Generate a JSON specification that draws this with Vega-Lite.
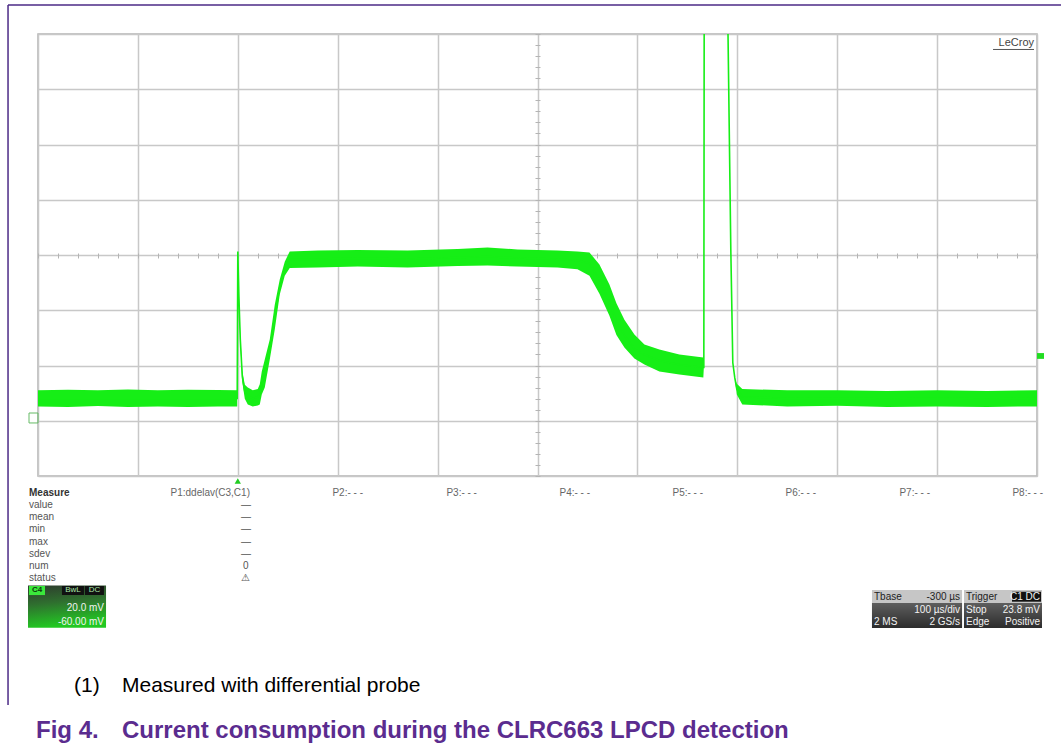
{
  "$schema": "https://vega.github.io/schema/vega-lite/v6.json",
  "width": 999,
  "height": 442,
  "autosize": {"type": "none"},
  "padding": {"left": 38, "top": 34, "right": 24, "bottom": 273},
  "background": "white",
  "config": {
    "view": {"stroke": "#b4b4b4", "strokeWidth": 1.5},
    "font": "Liberation Sans"
  },
  "datasets": {
    "trace": [
      {"t": -200, "lo": 5.2, "hi": 11.0, "mid": 8.1},
      {"t": -170, "lo": 5.0, "hi": 11.2, "mid": 8.1},
      {"t": -140, "lo": 5.3, "hi": 11.0, "mid": 8.1},
      {"t": -110, "lo": 5.0, "hi": 11.3, "mid": 8.1},
      {"t": -80, "lo": 5.2, "hi": 11.0, "mid": 8.1},
      {"t": -50, "lo": 5.0, "hi": 11.2, "mid": 8.1},
      {"t": -20, "lo": 5.2, "hi": 11.1, "mid": 8.1},
      {"t": -0.6, "lo": 5.2, "hi": 11.0, "mid": 8.1},
      {"t": 0, "lo": 61.3, "hi": 61.3, "mid": 61.3},
      {"t": 1, "lo": 45, "hi": 47, "mid": 46},
      {"t": 2.5, "lo": 28, "hi": 31, "mid": 29.5},
      {"t": 4.5, "lo": 14, "hi": 18, "mid": 16},
      {"t": 7, "lo": 8, "hi": 13, "mid": 10.5},
      {"t": 10, "lo": 5.9, "hi": 12.0, "mid": 9},
      {"t": 15, "lo": 5.2, "hi": 11.0, "mid": 8.1},
      {"t": 20, "lo": 5.5, "hi": 11.5, "mid": 8.5},
      {"t": 22, "lo": 5.9, "hi": 13.2, "mid": 9.5},
      {"t": 24, "lo": 9.5, "hi": 17.8, "mid": 13.6},
      {"t": 27, "lo": 12.0, "hi": 22.2, "mid": 17},
      {"t": 32, "lo": 22.2, "hi": 29.4, "mid": 25.8},
      {"t": 37, "lo": 33, "hi": 42, "mid": 37.5},
      {"t": 42, "lo": 45.7, "hi": 51.1, "mid": 48.4},
      {"t": 47, "lo": 52.5, "hi": 57.6, "mid": 55},
      {"t": 52, "lo": 55.3, "hi": 61.3, "mid": 58.3},
      {"t": 80, "lo": 55.5, "hi": 61.6, "mid": 58.5},
      {"t": 120, "lo": 55.8, "hi": 61.8, "mid": 58.8},
      {"t": 170, "lo": 55.5, "hi": 61.6, "mid": 58.5},
      {"t": 220, "lo": 56.0, "hi": 62.2, "mid": 59.1},
      {"t": 250, "lo": 56.2, "hi": 62.7, "mid": 59.4},
      {"t": 280, "lo": 55.8, "hi": 62.0, "mid": 58.9},
      {"t": 320, "lo": 55.5, "hi": 61.6, "mid": 58.5},
      {"t": 340, "lo": 54.8, "hi": 61.3, "mid": 58},
      {"t": 352, "lo": 52.5, "hi": 60.9, "mid": 57},
      {"t": 362, "lo": 46.0, "hi": 56.6, "mid": 51},
      {"t": 372, "lo": 38.0, "hi": 49.3, "mid": 43},
      {"t": 379, "lo": 31.0, "hi": 42.5, "mid": 36},
      {"t": 387, "lo": 26.5, "hi": 36.6, "mid": 31},
      {"t": 397, "lo": 22.5, "hi": 31.2, "mid": 26},
      {"t": 407, "lo": 20.4, "hi": 27.6, "mid": 24},
      {"t": 422, "lo": 17.8, "hi": 25.8, "mid": 21.8},
      {"t": 442, "lo": 16.7, "hi": 24.0, "mid": 20.3},
      {"t": 466, "lo": 15.7, "hi": 22.9, "mid": 19.3},
      {"t": 466.5, "lo": 19.3, "hi": 19.3, "mid": 19.3},
      {"t": 467, "lo": 200, "hi": 200, "mid": 200},
      {"t": 490, "lo": 200, "hi": 200, "mid": 200},
      {"t": 490.7, "lo": 140, "hi": 140, "mid": 140},
      {"t": 493.5, "lo": 62, "hi": 62, "mid": 62},
      {"t": 495.5, "lo": 21, "hi": 21, "mid": 21},
      {"t": 497.5, "lo": 15.5, "hi": 15.5, "mid": 15.5},
      {"t": 499.5, "lo": 9.5, "hi": 13.4, "mid": 11.4},
      {"t": 505, "lo": 5.9, "hi": 11.5, "mid": 8.7},
      {"t": 550, "lo": 5.2, "hi": 11.0, "mid": 8.1},
      {"t": 600, "lo": 5.4, "hi": 11.0, "mid": 8.2},
      {"t": 650, "lo": 5.0, "hi": 10.8, "mid": 7.9},
      {"t": 700, "lo": 5.2, "hi": 11.0, "mid": 8.1},
      {"t": 750, "lo": 5.0, "hi": 10.8, "mid": 7.9},
      {"t": 800, "lo": 5.2, "hi": 11.0, "mid": 8.1}
    ],
    "ann": [
      {"g": "mh", "t": -209, "v": -26.2, "s": "Measure"},
      {"g": "m", "t": -209, "v": -30.5, "s": "value"},
      {"g": "m", "t": -209, "v": -34.8, "s": "mean"},
      {"g": "m", "t": -209, "v": -39.3, "s": "min"},
      {"g": "m", "t": -209, "v": -43.8, "s": "max"},
      {"g": "m", "t": -209, "v": -48.3, "s": "sdev"},
      {"g": "m", "t": -209, "v": -52.6, "s": "num"},
      {"g": "m", "t": -209, "v": -57.0, "s": "status"},
      {"g": "p", "t": 12.2, "v": -26.2, "s": "P1:ddelav(C3,C1)"},
      {"g": "p", "t": 125.3, "v": -26.2, "s": "P2:- - -"},
      {"g": "p", "t": 239.4, "v": -26.2, "s": "P3:- - -"},
      {"g": "p", "t": 352.6, "v": -26.2, "s": "P4:- - -"},
      {"g": "p", "t": 465.7, "v": -26.2, "s": "P5:- - -"},
      {"g": "p", "t": 578.8, "v": -26.2, "s": "P6:- - -"},
      {"g": "p", "t": 692.9, "v": -26.2, "s": "P7:- - -"},
      {"g": "p", "t": 806, "v": -26.2, "s": "P8:- - -"},
      {"g": "pv", "t": 8.1, "v": -30.5, "s": "—"},
      {"g": "pv", "t": 8.1, "v": -34.8, "s": "—"},
      {"g": "pv", "t": 8.1, "v": -39.3, "s": "—"},
      {"g": "pv", "t": 8.1, "v": -43.8, "s": "—"},
      {"g": "pv", "t": 8.1, "v": -48.3, "s": "—"},
      {"g": "pv", "t": 8.1, "v": -52.6, "s": "0"},
      {"g": "pv", "t": 8.1, "v": -57.0, "s": "⚠"},
      {"g": "c4", "t": -201, "v": -61.4, "s": "C4"},
      {"g": "bw", "t": -165, "v": -61.4, "s": "BwL"},
      {"g": "bw", "t": -143.4, "v": -61.4, "s": "DC"},
      {"g": "wr", "t": -133.9, "v": -67.8, "s": "20.0 mV"},
      {"g": "wr", "t": -133.9, "v": -72.9, "s": "-60.00 mV"},
      {"g": "dl", "t": 636.8, "v": -63.8, "s": "Tbase"},
      {"g": "dr", "t": 723, "v": -63.8, "s": "-300 µs"},
      {"g": "wr", "t": 723, "v": -68.5, "s": "100 µs/div"},
      {"g": "wl", "t": 636.8, "v": -72.9, "s": "2 MS"},
      {"g": "wr", "t": 723, "v": -72.9, "s": "2 GS/s"},
      {"g": "dl", "t": 728.9, "v": -63.8, "s": "Trigger"},
      {"g": "wr", "t": 803, "v": -63.8, "s": "C1 DC"},
      {"g": "wl", "t": 728.9, "v": -68.5, "s": "Stop"},
      {"g": "wr", "t": 803, "v": -68.5, "s": "23.8 mV"},
      {"g": "wl", "t": 728.9, "v": -72.9, "s": "Edge"},
      {"g": "wr", "t": 803, "v": -72.9, "s": "Positive"},
      {"g": "logo", "t": 797, "v": 136.8, "s": "LeCroy"},
      {"g": "cap", "t": -164, "v": -98.2, "s": "(1)"},
      {"g": "cap", "t": -115.9, "v": -98.2, "s": "Measured with differential probe"},
      {"g": "fig", "t": -202, "v": -114.8, "s": "Fig 4."},
      {"g": "fig", "t": -115.9, "v": -114.8, "s": "Current consumption during the CLRC663 LPCD detection"}
    ],
    "boxes": [
      {"g": "gp", "t1": -210, "t2": -131.9, "v1": -59.6, "v2": -74.9},
      {"g": "db", "t1": 634.8, "t2": 725, "v1": -66.0, "v2": -75.0},
      {"g": "db", "t1": 726.9, "t2": 805, "v1": -66.0, "v2": -75.0},
      {"g": "c4tag", "t1": -209, "t2": -193, "v1": -59.8, "v2": -63.1},
      {"g": "blk", "t1": -176, "t2": -154, "v1": -59.8, "v2": -63.1},
      {"g": "blk", "t1": -153, "t2": -134, "v1": -59.8, "v2": -63.1},
      {"g": "hdr", "t1": 634.8, "t2": 725, "v1": -61.3, "v2": -66.0},
      {"g": "hdr", "t1": 726.9, "t2": 805, "v1": -61.3, "v2": -66.0},
      {"g": "blk", "t1": 775, "t2": 804, "v1": -61.9, "v2": -65.5},
      {"g": "trig", "t1": 800, "t2": 807, "v1": 24.5, "v2": 22.4}
    ]
  },
  "resolve": {"axis": {"x": "independent", "y": "independent"}},
  "layer": [
    {
      "data": {"name": "trace"},
      "mark": {"type": "area", "color": "#16ee16", "clip": true, "opacity": 1},
      "encoding": {
        "x": {"field": "t", "type": "quantitative", "scale": {"domain": [-200, 800], "nice": false, "zero": false},
          "axis": {"values": [-200, -100, 0, 100, 200, 300, 400, 500, 600, 700, 800], "grid": true, "gridColor": "#c8c8c8", "gridWidth": 1.5, "labels": false, "ticks": false, "domain": false, "title": null}},
        "y": {"field": "lo", "type": "quantitative", "scale": {"domain": [-20, 140], "nice": false, "zero": false},
          "axis": {"values": [-20, 0, 20, 40, 60, 80, 100, 120, 140], "grid": true, "gridColor": "#c8c8c8", "gridWidth": 1.5, "labels": false, "ticks": false, "domain": false, "title": null}},
        "y2": {"field": "hi"}
      }
    },
    {
      "data": {"name": "trace"},
      "mark": {"type": "line", "color": "#16ee16", "clip": true, "strokeWidth": 1.6},
      "encoding": {
        "x": {"field": "t", "type": "quantitative", "scale": {"domain": [-200, 800], "nice": false, "zero": false},
          "axis": {"orient": "bottom", "offset": -223, "values": [-200,-180,-160,-140,-120,-100,-80,-60,-40,-20,0,20,40,60,80,100,120,140,160,180,200,220,240,260,280,300,320,340,360,380,400,420,440,460,480,500,520,540,560,580,600,620,640,660,680,700,720,740,760,780,800], "tickSize": 5, "tickColor": "#b4b4b4", "tickWidth": 1, "labels": false, "domain": false, "grid": false, "title": null}},
        "y": {"field": "mid", "type": "quantitative", "scale": {"domain": [-20, 140], "nice": false, "zero": false},
          "axis": {"orient": "left", "offset": -502, "values": [-20,-16,-12,-8,-4,0,4,8,12,16,20,24,28,32,36,40,44,48,52,56,60,64,68,72,76,80,84,88,92,96,100,104,108,112,116,120,124,128,132,136,140], "tickSize": 5, "tickColor": "#b4b4b4", "tickWidth": 1, "labels": false, "domain": false, "grid": false, "title": null}}
      }
    },
    {
      "data": {"name": "boxes"},
      "transform": [{"filter": "datum.g === 'gp'"}],
      "mark": {"type": "rect", "color": {"gradient": "linear", "x1": 0, "y1": 0, "x2": 0.2, "y2": 1, "stops": [{"offset": 0, "color": "#2e3a2e"}, {"offset": 0.45, "color": "#2f6f2f"}, {"offset": 1, "color": "#22c822"}]}},
      "encoding": {
        "x": {"field": "t1", "type": "quantitative", "axis": null},
        "x2": {"field": "t2"},
        "y": {"field": "v1", "type": "quantitative", "axis": null},
        "y2": {"field": "v2"}
      }
    },
    {
      "data": {"name": "boxes"},
      "transform": [{"filter": "datum.g === 'db'"}],
      "mark": {"type": "rect", "color": {"gradient": "linear", "x1": 0, "y1": 0, "x2": 0, "y2": 1, "stops": [{"offset": 0, "color": "#5e5e5e"}, {"offset": 1, "color": "#2c2c2c"}]}},
      "encoding": {
        "x": {"field": "t1", "type": "quantitative", "axis": null},
        "x2": {"field": "t2"},
        "y": {"field": "v1", "type": "quantitative", "axis": null},
        "y2": {"field": "v2"}
      }
    },
    {
      "data": {"name": "boxes"},
      "transform": [{"filter": "datum.g !== 'gp' && datum.g !== 'db'"}],
      "mark": {"type": "rect"},
      "encoding": {
        "x": {"field": "t1", "type": "quantitative", "axis": null},
        "x2": {"field": "t2"},
        "y": {"field": "v1", "type": "quantitative", "axis": null},
        "y2": {"field": "v2"},
        "color": {"field": "g", "type": "nominal", "legend": null, "scale": {"domain": ["c4tag", "blk", "hdr", "trig"], "range": ["#3be83b", "#111111", "#c6c6c6", "#22dd22"]}}
      }
    },
    {
      "data": {"values": [{}]},
      "mark": {"type": "rect", "filled": false, "stroke": "#66bb66", "strokeWidth": 1},
      "encoding": {
        "x": {"datum": -209, "type": "quantitative", "axis": null},
        "x2": {"datum": -200},
        "y": {"datum": 2.8, "type": "quantitative", "axis": null},
        "y2": {"datum": -0.8}
      }
    },
    {
      "data": {"values": [{}]},
      "mark": {"type": "point", "shape": "triangle-up", "filled": true, "color": "#22cc22", "size": 40, "opacity": 1},
      "encoding": {
        "x": {"datum": 0, "type": "quantitative", "axis": null},
        "y": {"datum": -21.8, "type": "quantitative", "axis": null}
      }
    },
    {
      "data": {"values": [{}]},
      "mark": {"type": "rule", "color": "#4b2a86", "strokeWidth": 1.5},
      "encoding": {
        "x": {"datum": -230, "type": "quantitative", "axis": null},
        "y": {"datum": 150.5, "type": "quantitative", "axis": null},
        "y2": {"datum": -102.9}
      }
    },
    {
      "data": {"values": [{}]},
      "mark": {"type": "rule", "color": "#4b2a86", "strokeWidth": 1.5},
      "encoding": {
        "x": {"datum": -230, "type": "quantitative", "axis": null},
        "x2": {"datum": 824},
        "y": {"datum": 150.5, "type": "quantitative", "axis": null}
      }
    },
    {
      "data": {"values": [{}]},
      "mark": {"type": "rule", "color": "#555555", "strokeWidth": 1},
      "encoding": {
        "x": {"datum": 756, "type": "quantitative", "axis": null},
        "x2": {"datum": 797},
        "y": {"datum": 134.4, "type": "quantitative", "axis": null}
      }
    },
    {
      "data": {"name": "ann"},
      "transform": [{"filter": "datum.g === 'mh'"}],
      "mark": {"type": "text", "align": "left", "baseline": "middle", "fontSize": 10, "fontWeight": "bold", "color": "#333333"},
      "encoding": {"x": {"field": "t", "type": "quantitative", "axis": null}, "y": {"field": "v", "type": "quantitative", "axis": null}, "text": {"field": "s"}}
    },
    {
      "data": {"name": "ann"},
      "transform": [{"filter": "datum.g === 'm'"}],
      "mark": {"type": "text", "align": "left", "baseline": "middle", "fontSize": 10, "color": "#555555"},
      "encoding": {"x": {"field": "t", "type": "quantitative", "axis": null}, "y": {"field": "v", "type": "quantitative", "axis": null}, "text": {"field": "s"}}
    },
    {
      "data": {"name": "ann"},
      "transform": [{"filter": "datum.g === 'p'"}],
      "mark": {"type": "text", "align": "right", "baseline": "middle", "fontSize": 10, "color": "#666666"},
      "encoding": {"x": {"field": "t", "type": "quantitative", "axis": null}, "y": {"field": "v", "type": "quantitative", "axis": null}, "text": {"field": "s"}}
    },
    {
      "data": {"name": "ann"},
      "transform": [{"filter": "datum.g === 'pv'"}],
      "mark": {"type": "text", "align": "center", "baseline": "middle", "fontSize": 10, "color": "#555555"},
      "encoding": {"x": {"field": "t", "type": "quantitative", "axis": null}, "y": {"field": "v", "type": "quantitative", "axis": null}, "text": {"field": "s"}}
    },
    {
      "data": {"name": "ann"},
      "transform": [{"filter": "datum.g === 'c4'"}],
      "mark": {"type": "text", "align": "center", "baseline": "middle", "fontSize": 8, "fontWeight": "bold", "color": "#0b3a0b"},
      "encoding": {"x": {"field": "t", "type": "quantitative", "axis": null}, "y": {"field": "v", "type": "quantitative", "axis": null}, "text": {"field": "s"}}
    },
    {
      "data": {"name": "ann"},
      "transform": [{"filter": "datum.g === 'bw'"}],
      "mark": {"type": "text", "align": "center", "baseline": "middle", "fontSize": 8, "color": "#a8e8a8"},
      "encoding": {"x": {"field": "t", "type": "quantitative", "axis": null}, "y": {"field": "v", "type": "quantitative", "axis": null}, "text": {"field": "s"}}
    },
    {
      "data": {"name": "ann"},
      "transform": [{"filter": "datum.g === 'wr'"}],
      "mark": {"type": "text", "align": "right", "baseline": "middle", "fontSize": 10, "color": "#f2f2f2"},
      "encoding": {"x": {"field": "t", "type": "quantitative", "axis": null}, "y": {"field": "v", "type": "quantitative", "axis": null}, "text": {"field": "s"}}
    },
    {
      "data": {"name": "ann"},
      "transform": [{"filter": "datum.g === 'wl'"}],
      "mark": {"type": "text", "align": "left", "baseline": "middle", "fontSize": 10, "color": "#f2f2f2"},
      "encoding": {"x": {"field": "t", "type": "quantitative", "axis": null}, "y": {"field": "v", "type": "quantitative", "axis": null}, "text": {"field": "s"}}
    },
    {
      "data": {"name": "ann"},
      "transform": [{"filter": "datum.g === 'dl'"}],
      "mark": {"type": "text", "align": "left", "baseline": "middle", "fontSize": 10, "color": "#222222"},
      "encoding": {"x": {"field": "t", "type": "quantitative", "axis": null}, "y": {"field": "v", "type": "quantitative", "axis": null}, "text": {"field": "s"}}
    },
    {
      "data": {"name": "ann"},
      "transform": [{"filter": "datum.g === 'dr'"}],
      "mark": {"type": "text", "align": "right", "baseline": "middle", "fontSize": 10, "color": "#222222"},
      "encoding": {"x": {"field": "t", "type": "quantitative", "axis": null}, "y": {"field": "v", "type": "quantitative", "axis": null}, "text": {"field": "s"}}
    },
    {
      "data": {"name": "ann"},
      "transform": [{"filter": "datum.g === 'logo'"}],
      "mark": {"type": "text", "align": "right", "baseline": "middle", "fontSize": 11, "color": "#444444"},
      "encoding": {"x": {"field": "t", "type": "quantitative", "axis": null}, "y": {"field": "v", "type": "quantitative", "axis": null}, "text": {"field": "s"}}
    },
    {
      "data": {"name": "ann"},
      "transform": [{"filter": "datum.g === 'cap'"}],
      "mark": {"type": "text", "align": "left", "baseline": "alphabetic", "fontSize": 21, "color": "#000000"},
      "encoding": {"x": {"field": "t", "type": "quantitative", "axis": null}, "y": {"field": "v", "type": "quantitative", "axis": null}, "text": {"field": "s"}}
    },
    {
      "data": {"name": "ann"},
      "transform": [{"filter": "datum.g === 'fig'"}],
      "mark": {"type": "text", "align": "left", "baseline": "alphabetic", "fontSize": 24, "fontWeight": "bold", "color": "#5b2c8f"},
      "encoding": {"x": {"field": "t", "type": "quantitative", "axis": null}, "y": {"field": "v", "type": "quantitative", "axis": null}, "text": {"field": "s"}}
    }
  ]
}
